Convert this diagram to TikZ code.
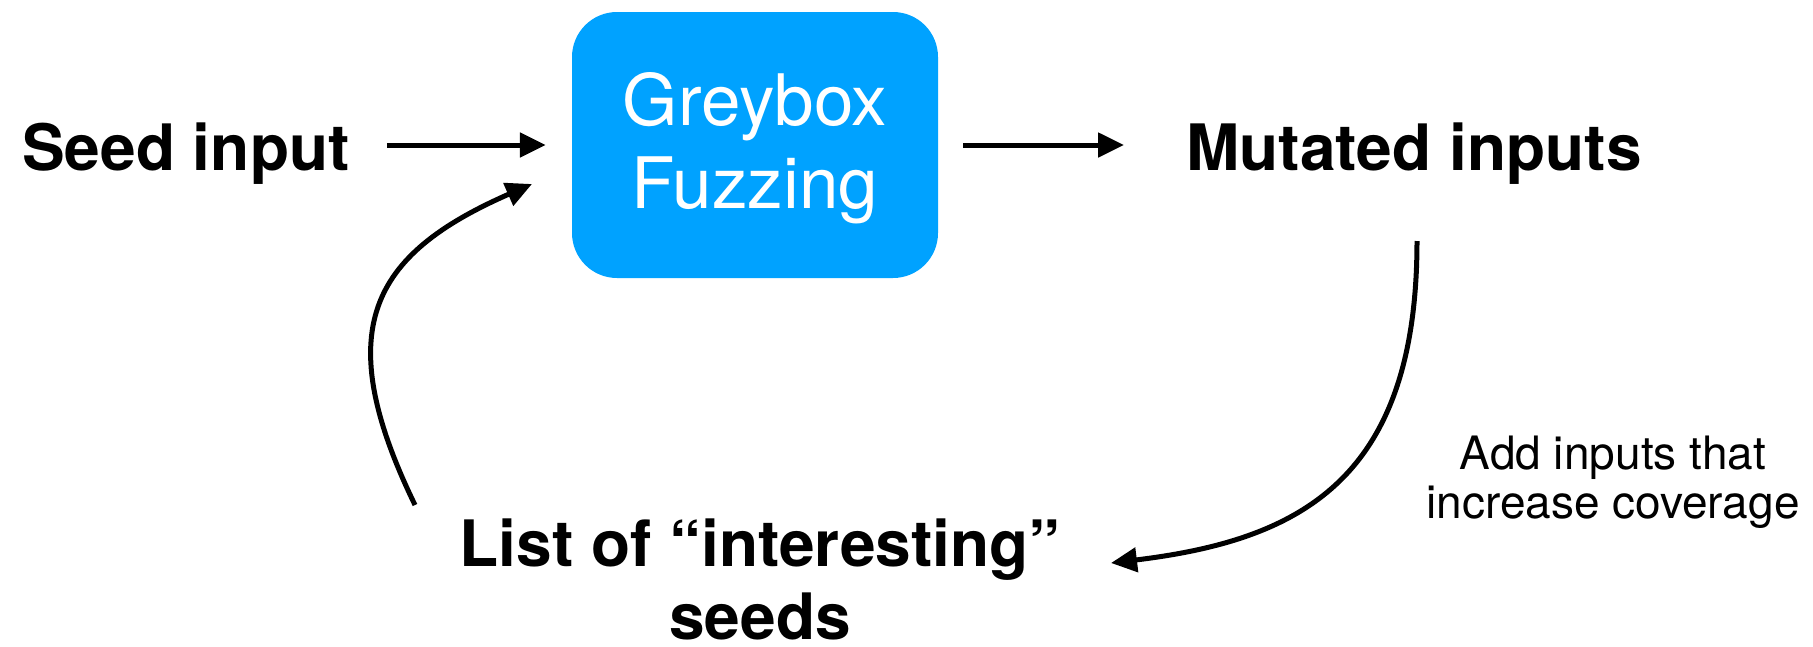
\documentclass[tikz,border=0pt]{standalone}
\usepackage{fontspec}
\setmainfont{TeX Gyre Heros}
\usetikzlibrary{arrows.meta}
\definecolor{keyblue}{RGB}{0,162,255}
\begin{document}
\begin{tikzpicture}[x=1pt,y=-1pt,
  arr/.style={line width=5pt, -{Triangle[length=26pt,width=24pt]}},
  bigbold/.style={font=\fontsize{64}{73}\selectfont\bfseries, inner sep=0pt, align=center},
  boxtext/.style={font=\fontsize{71}{83}\selectfont, text=white, inner sep=0pt, align=center},
  note/.style={font=\fontsize{46}{49}\selectfont, inner sep=0pt, align=center},
  fuzzbox/.style={fill=keyblue, rounded corners=45pt, minimum width=366pt, minimum height=266pt, inner sep=0pt}]
\useasboundingbox (0,0) rectangle (1813,646);
\node[fuzzbox] (box) at (755,145) {};
\node[boxtext] (fuzz) at (755,148) {Greybox\\Fuzzing};
\node[bigbold, anchor=base west] (seed) at (22,170) {Seed input};
\node[bigbold, anchor=base west] (mut) at (1186,170) {Mutated inputs};
\node[bigbold] (list) at (760,579) {List of “interesting”\\seeds};
\node[note] (add) at (1613,482) {Add inputs that\\increase coverage};
\coordinate (rs) at (1417,241);
\coordinate (re) at (1111,563);
\coordinate (ls) at (415,505);
\coordinate (le) at (532,184);
\draw[arr, shorten <=37pt, shorten >=26pt] (seed.east |- box.west) -- (box.west);
\draw[arr, shorten <=25pt, shorten >=62pt] (box.east) -- (box.east -| mut.west);
\draw[arr] (rs) .. controls (1417,480) and (1300,540) .. (re);
\draw[arr] (ls) .. controls (330,330) and (370,255) .. (le);
\end{tikzpicture}
\end{document}
